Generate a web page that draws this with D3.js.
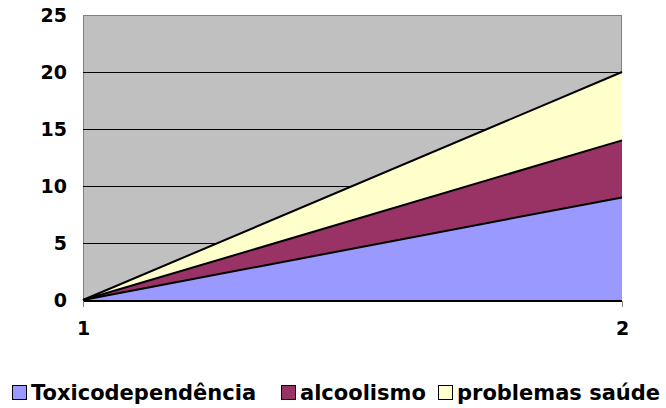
<!DOCTYPE html>
<html><head><meta charset="utf-8">
<script src="https://cdn.jsdelivr.net/npm/d3@7"></script>
<style>
body{margin:0;background:#fff}svg{display:block}
svg text{font-family:"DejaVu Sans",Verdana,sans-serif;font-weight:700;fill:#000}
</style>
</head><body>
<script>
const categories = ["1", "2"];
const seriesNames = ["Toxicodependência", "alcoolismo", "problemas saúde"];
const toxico = [0, 9];
const alcool = [0, 5];
const saude = [0, 6];
const yTicks = [0, 5, 10, 15, 20, 25];
const colors = ["#9999FF", "#993366", "#FFFFCC"];

const W = 666, H = 408;
const m = {left: 83, right: 44, top: 15, bottom: 108};
const svg = d3.select("body").append("svg").attr("width", W).attr("height", H);

const x = d3.scalePoint().domain(categories).range([m.left, W - m.right]);
const y = d3.scaleLinear().domain([0, 25]).range([H - m.bottom, m.top]);

const rows = categories.map((c, i) => ({cat: c, s0: toxico[i], s1: alcool[i], s2: saude[i]}));
const stack = d3.stack().keys(["s0", "s1", "s2"])(rows);

// plot bg
svg.append("rect").attr("x", m.left + 0.5).attr("y", m.top + 0.5)
  .attr("width", W - m.right - m.left - 1).attr("height", H - m.bottom - m.top)
  .attr("fill", "#C0C0C0").attr("stroke", "#808080").attr("stroke-width", 1);

// gridlines
svg.append("g").selectAll("line").data(yTicks.filter(t => t > 0 && t < 25)).join("line")
  .attr("x1", m.left).attr("x2", W - m.right)
  .attr("y1", d => Math.round(y(d)) + 0.5).attr("y2", d => Math.round(y(d)) + 0.5)
  .attr("stroke", "#000").attr("stroke-width", 1);

// areas
const area = d3.area().x(d => x(d.data.cat)).y0(d => y(d[0])).y1(d => y(d[1]));
const line = d3.line().x(d => x(d.data.cat)).y(d => y(d[1]));
svg.append("g").selectAll("path").data(stack).join("path")
  .attr("d", area).attr("fill", (d, i) => colors[i]);
svg.append("g").selectAll("path").data(stack).join("path")
  .attr("d", line).attr("fill", "none").attr("stroke", "#000").attr("stroke-width", 2);

// y axis
const yAxis = svg.append("g").attr("transform", `translate(${m.left - 16},0)`)
  .call(d3.axisLeft(y).tickValues(yTicks).tickSize(0).tickPadding(0));
yAxis.select(".domain").remove();
yAxis.selectAll("text").style("font-size", "19px").attr("fill", "#000").attr("dy", "0.36em");

// x axis
const xAxis = svg.append("g").attr("transform", `translate(0,${H - m.bottom + 1})`)
  .call(d3.axisBottom(x).tickSize(6).tickPadding(15));
xAxis.select(".domain").attr("stroke", "#000").attr("stroke-width", 2)
  .attr("d", `M${m.left},0H${W - m.right}`);
xAxis.selectAll(".tick line").attr("stroke", "#808080");
xAxis.selectAll("text").style("font-size", "19px").attr("fill", "#000");
svg.selectAll("g").attr("font-family", null).attr("font-size", null);

// legend
const legendItems = [
  {name: seriesNames[0], x: 12, color: colors[0]},
  {name: seriesNames[1], x: 281, color: colors[1]},
  {name: seriesNames[2], x: 438, color: colors[2]}
];
const items = svg.append("g").selectAll("g").data(legendItems).join("g")
  .attr("transform", d => `translate(${d.x},385)`);
items.append("rect").attr("x", 0.5).attr("y", 0.5).attr("width", 14).attr("height", 14)
  .attr("fill", d => d.color).attr("stroke", "#000").attr("stroke-width", 1);
items.append("text").attr("x", 19).attr("y", 15).style("font-size", "21px")
  .text(d => d.name);
</script>
</body></html>
